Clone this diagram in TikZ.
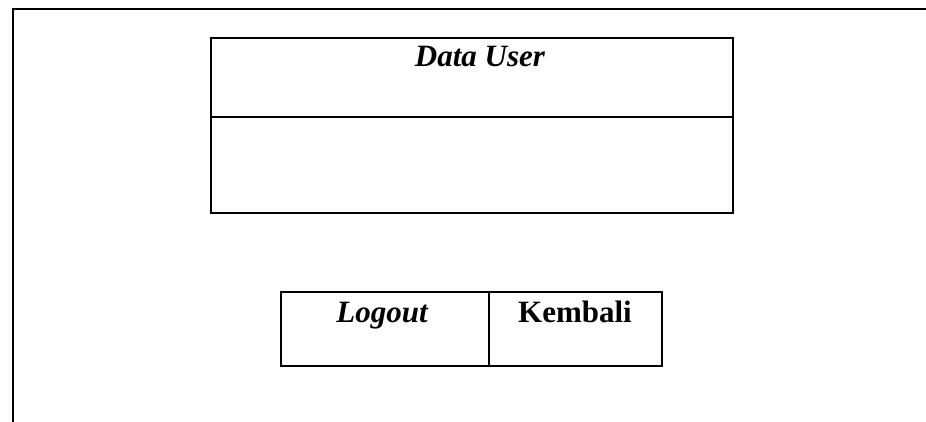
\documentclass[tikz,border=0pt]{standalone}
\usepackage{fontspec}
\setmainfont{Liberation Serif}
\begin{document}
\begin{tikzpicture}[x=1pt,y=-1pt,line width=2pt,
  panel/.style={draw,minimum width=#1,minimum height=74pt,inner sep=0pt,outer sep=0pt},
  label/.style={anchor=base,inner sep=0pt,font=\fontsize{31}{36}\selectfont\bfseries}]
\useasboundingbox (0,0) rectangle (926,422);
% page frame: top and left edge
\coordinate (tl) at (13,9);
\coordinate (tr) at (926,9);
\coordinate (bl) at (13,422);
\draw (tr) -- (tl) -- (bl);
% user data panel with header divider
\node[draw,minimum width=522pt,minimum height=175pt,inner sep=0pt,outer sep=0pt] (user) at (472,125.5) {};
\coordinate (divl) at (211,117);
\coordinate (divr) at (733,117);
\draw (divl) -- (divr);
\node[label] (title) at (480,67) {\itshape Data User};
% buttons
\node[panel=208pt] (logout) at (385,329) {};
\node[panel=173pt,anchor=west] (back) at (logout.east) {};
\node[label] (logouttxt) at (382,322) {\itshape Logout};
\node[label] (backtxt) at (575,322) {Kembali};
\end{tikzpicture}
\end{document}
